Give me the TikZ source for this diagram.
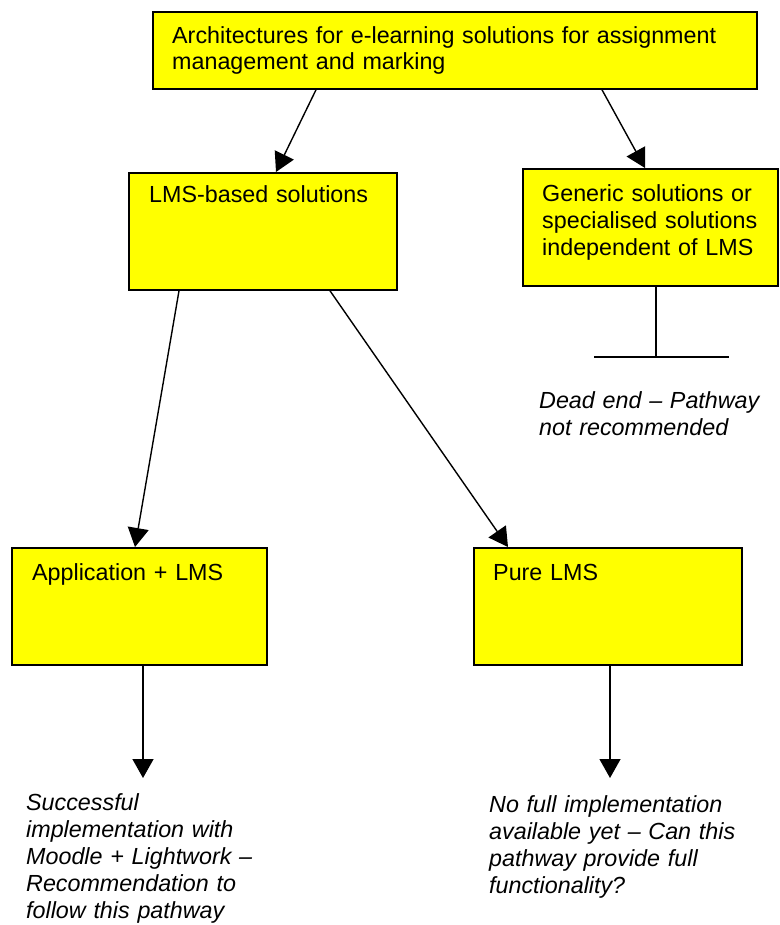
\documentclass[tikz,border=0pt]{standalone}
\usepackage{fontspec}
\setmainfont{Liberation Sans}
\usetikzlibrary{arrows.meta, positioning}
\definecolor{boxyellow}{HTML}{FFFF00}

\begin{document}
\begin{tikzpicture}[x=1pt, y=-1pt]
\tikzstyle{solution} = [rectangle, draw=black, line width=1.8pt, fill=boxyellow, anchor=north west, inner sep=0pt]
\tikzstyle{boxtext} = [anchor=base west, inner sep=0pt, align=left, text width=300pt, font=\fontsize{23.3}{27}\selectfont]
\tikzstyle{outcome} = [boxtext, font=\fontsize{23.3}{27}\selectfont\itshape]
\tikzstyle{arrow} = [line width=1.4pt, -{Triangle[length=19pt, width=21pt]}]

\useasboundingbox (0,0) rectangle (779,925);

% Architecture boxes
\node (arch) [solution, minimum width=604, minimum height=77] at (152,11) {};
\node (lms) [solution, minimum width=268, minimum height=117] at (128,172) {};
\node (generic) [solution, minimum width=255, minimum height=117] at (522,168) {};
\node (app) [solution, minimum width=255, minimum height=117] at (11,547) {};
\node (pure) [solution, minimum width=268, minimum height=117] at (473,547) {};

% Box texts
\node (archtext) [boxtext, text width=600pt, font=\fontsize{23.3}{26}\selectfont] at ([shift={(20,33)}]arch.north west) {Architectures for e-learning solutions for assignment\\management and marking};
\node (lmstext) [boxtext] at ([shift={(21,31)}]lms.north west) {LMS-based solutions};
\node (generictext) [boxtext] at ([shift={(20,34)}]generic.north west) {Generic solutions or\\specialised solutions\\independent of LMS};
\node (apptext) [boxtext] at ([shift={(21,33)}]app.north west) {Application + LMS};
\node (puretext) [boxtext] at ([shift={(20,33)}]pure.north west) {Pure LMS};

% Pathway ends
\coordinate (deadend) at (656,357);
\coordinate (success) at (143,778);
\coordinate (open) at (610,778);

\node (deadtext) [outcome] at (539,408) {Dead end -- Pathway\\not recommended};
\node (successtext) [outcome] at (26,810) {Successful\\implementation with\\Moodle + Lightwork --\\Recommendation to\\follow this pathway};
\node (opentext) [outcome] at (489,812) {No full implementation\\available yet -- Can this\\pathway provide full\\functionality?};

% Arrows between boxes
\draw[arrow] ([xshift=164]arch.south west) -- ([xshift=148]lms.north west);
\draw[arrow] ([xshift=450]arch.south west) -- ([xshift=123]generic.north west);
\draw[arrow] ([xshift=51]lms.south west) -- ([xshift=124]app.north west);
\draw[arrow] ([xshift=202]lms.south west) -- ([xshift=35]pure.north west);
\draw[arrow] ([xshift=132]app.south west) -- (success);
\draw[arrow] ([xshift=137]pure.south west) -- (open);

% Dead end bar
\draw[line width=1.4pt] ([xshift=134]generic.south west) -- (deadend);
\draw[line width=1.4pt] ([xshift=-62]deadend) -- ([xshift=73]deadend);

\end{tikzpicture}
\end{document}
